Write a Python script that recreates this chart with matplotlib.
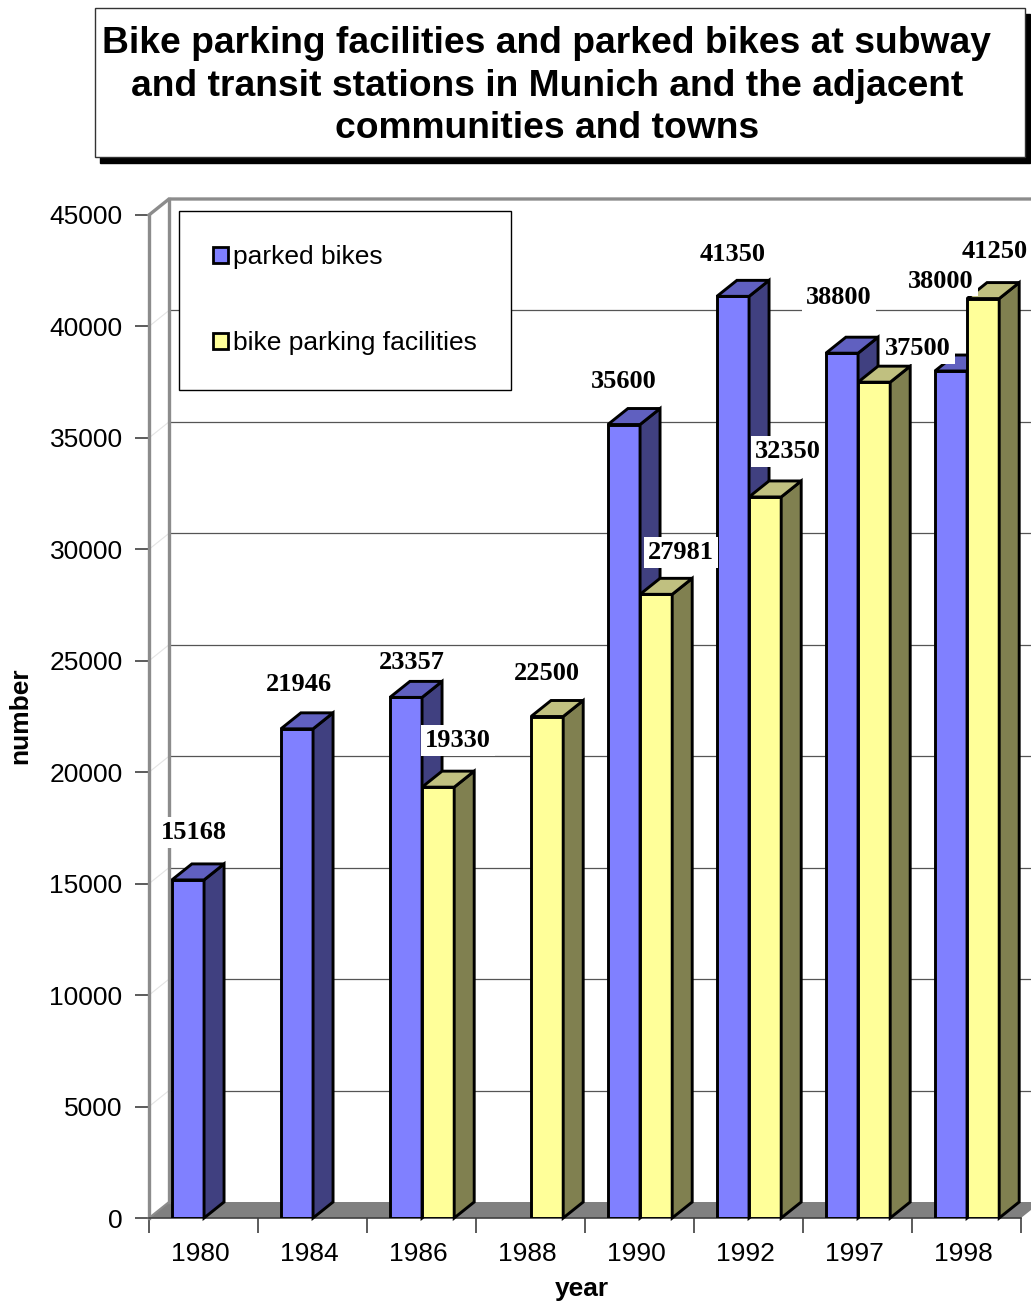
import numpy as np
import matplotlib
matplotlib.use("Agg")
import matplotlib.pyplot as plt
from matplotlib.patches import Polygon, Rectangle, Patch

# ---------------- data ----------------
years = ["1980", "1984", "1986", "1988", "1990", "1992", "1997", "1998"]
parked_bikes = [15168, 21946, 23357, np.nan, 35600, 41350, 38800, 38000]
parking_facilities = [np.nan, np.nan, 19330, 22500, 27981, 32350, 37500, 41250]
y_ticks = [0, 5000, 10000, 15000, 20000, 25000, 30000, 35000, 40000, 45000]
series_names = ["parked bikes", "bike parking facilities"]
title = ("Bike parking facilities and parked bikes at subway\n"
         "and transit stations in Munich and the adjacent\n"
         "communities and towns")

# label offsets (pixels) relative to bar front-top centre
parked_label_off = [(6, 47), (2, 44), (6, 35), (0, 0), (0, 43), (0, 42), (-3, 56), (-10, 90)]
facil_label_off = [(0, 0), (0, 0), (20, 47), (0, 43), (25, 42), (23, 45), (44, 34), (12, 47)]

# ---------------- styling ----------------
W, H = 1031, 1301
SANS = ["Liberation Sans", "DejaVu Sans"]
SERIF = ["Liberation Serif", "DejaVu Serif"]
FS = 19
blue = ("#8080FF", "#404080", "#6060C0")     # front, side, top
yellow = ("#FFFF99", "#808050", "#C0C080")

fig = plt.figure(figsize=(W / 100, H / 100), dpi=100)
L, R, B, T = 149, 1021, 1218, 215
ax = fig.add_axes([L / W, 1 - B / H, (R - L) / W, (B - T) / H])
n = len(years)
ymax = y_ticks[-1]
ax.set_xlim(0, n)
ax.set_ylim(0, ymax)
ax.patch.set_visible(False)

DXp, DYp = 20, 16
dx = DXp * n / (R - L)
dy = DYp * ymax / (B - T)

wall_c = "#8c8c8c"
# floor
ax.add_patch(Polygon([(0, 0), (n, 0), (n + dx, dy), (dx, dy)], closed=True,
                     facecolor="#808080", edgecolor="none", zorder=1, clip_on=False))
# back wall gridlines
for v in y_ticks[1:-1]:
    ax.plot([dx, n + dx], [v + dy, v + dy], color="#555555", lw=0.9, zorder=1, clip_on=False)
    ax.plot([0, dx], [v, v + dy], color="#e4e4e4", lw=0.8, zorder=1, clip_on=False)
# wall borders
ax.plot([dx, dx], [dy, ymax + dy], color=wall_c, lw=2.4, zorder=2, clip_on=False)
ax.plot([0, dx, n + dx], [ymax, ymax + dy, ymax + dy], color=wall_c, lw=2.4, zorder=2,
        clip_on=False, solid_joinstyle="miter")
ax.plot([0, dx], [0, dy], color=wall_c, lw=1.5, zorder=2, clip_on=False)

# bars
bw = 0.295
offsets = [0.21, 0.505]
z = 5
for i in range(n):
    for s, (vals, cols) in enumerate([(parked_bikes, blue), (parking_facilities, yellow)]):
        v = vals[i]
        if np.isnan(v):
            continue
        x0 = i + offsets[s]
        x1 = x0 + bw
        ax.bar(x0, v, width=bw, align="edge", color=cols[0], edgecolor="black",
               lw=2.1, zorder=z, label=None)
        ax.add_patch(Polygon([(x1, 0), (x1 + dx, dy), (x1 + dx, v + dy), (x1, v)], closed=True,
                             facecolor=cols[1], edgecolor="black", lw=2.1, zorder=z,
                             joinstyle="miter", clip_on=False))
        ax.add_patch(Polygon([(x0, v), (x0 + dx, v + dy), (x1 + dx, v + dy), (x1, v)], closed=True,
                             facecolor=cols[2], edgecolor="black", lw=2.1, zorder=z,
                             joinstyle="miter", clip_on=False))
        z += 1

# data labels
for s, (vals, offs) in enumerate([(parked_bikes, parked_label_off),
                                  (parking_facilities, facil_label_off)]):
    for i, v in enumerate(vals):
        if np.isnan(v):
            continue
        xc = i + offsets[s] + bw / 2
        ax.annotate(f"{int(v)}", xy=(xc, v), xytext=offs[i], textcoords="offset pixels",
                    ha="center", va="center", fontsize=FS, fontweight="bold",
                    family=SERIF, zorder=50, annotation_clip=False,
                    bbox=dict(boxstyle="square,pad=0.15", facecolor="white", edgecolor="none"))

# axes
for sp in ["top", "right"]:
    ax.spines[sp].set_visible(False)
ax.spines["left"].set_color(wall_c)
ax.spines["left"].set_linewidth(2.4)
ax.spines["left"].set_zorder(3)
ax.spines["bottom"].set_color("#404040")
ax.spines["bottom"].set_linewidth(1.2)
ax.spines["bottom"].set_zorder(3)

ax.set_yticks(y_ticks)
ax.set_yticklabels([str(t) for t in y_ticks], fontsize=FS, family=SANS)
ax.tick_params(axis="y", length=10, width=1.2, color="#404040", pad=9)
ax.set_xticks(range(n + 1))
ax.set_xticklabels([""] * (n + 1))
ax.tick_params(axis="x", which="major", length=11, width=1.2, color="#404040")
ax.set_xticks([i + 0.47 for i in range(n)], minor=True)
ax.set_xticklabels(years, minor=True, fontsize=FS, family=SANS)
ax.tick_params(axis="x", which="minor", length=0, pad=17)

ax.set_xlabel("year", fontsize=FS, fontweight="bold", family=SANS)
ax.xaxis.label.set_va("center")
ax.xaxis.set_label_coords((582 - L) / (R - L), (B - 1289) / (B - T))
ax.set_ylabel("number", fontsize=FS, fontweight="bold", family=SANS)
ax.yaxis.label.set_va("center")
ax.yaxis.set_label_coords((20 - L) / (R - L), (B - 716) / (B - T))

# legend
handles = [Patch(facecolor=blue[0], edgecolor="black", lw=2),
           Patch(facecolor=yellow[0], edgecolor="black", lw=2)]
leg = fig.legend(handles, series_names, loc="upper left",
                 bbox_to_anchor=(179 / W, 1 - 211 / H), borderaxespad=0,
                 prop=dict(family=SANS, size=FS), frameon=True, fancybox=False,
                 edgecolor="black", framealpha=1, borderpad=1.3, labelspacing=2.35,
                 handlelength=0.55, handleheight=0.55, handletextpad=0.2)
leg.get_frame().set_linewidth(1)
leg.set_zorder(60)

# title box
def fr(x, y, w, h):
    return (x / W, 1 - (y + h) / H), w / W, h / H

xy, w, h = fr(100, 14, 930, 149)
fig.patches.append(Rectangle(xy, w, h, transform=fig.transFigure, facecolor="black",
                             edgecolor="black", zorder=1))
xy, w, h = fr(95, 8, 930, 149)
fig.patches.append(Rectangle(xy, w, h, transform=fig.transFigure, facecolor="white",
                             edgecolor="#333333", lw=1, zorder=2))
fig.text(547 / W, 1 - 86 / H, title, ha="center", va="center", fontsize=26.8,
         fontweight="bold", family=SANS, linespacing=1.29, zorder=3)

fig.savefig("out.png", dpi=100)
